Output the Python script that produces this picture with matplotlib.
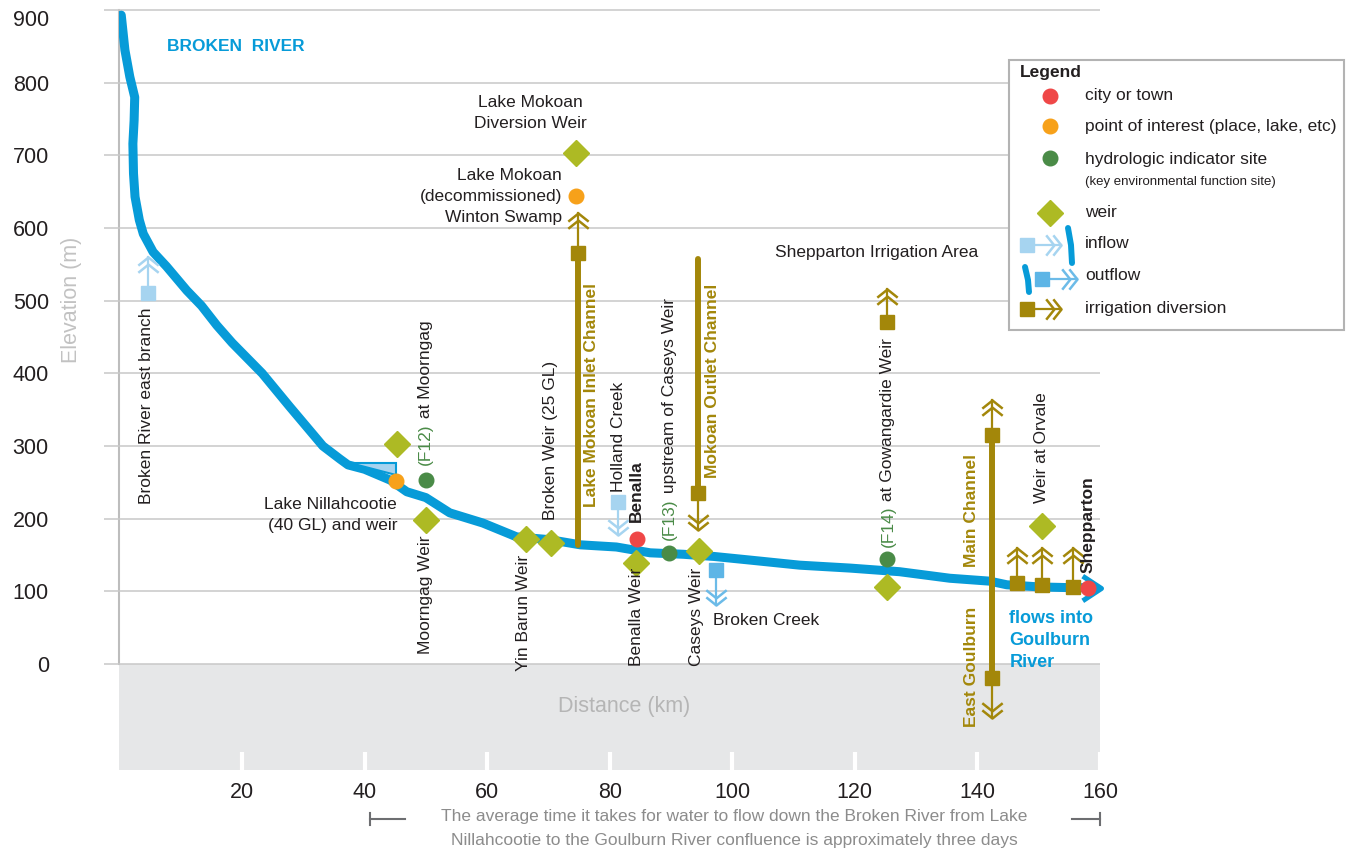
import numpy as np
import matplotlib.pyplot as plt
from matplotlib.path import Path
from matplotlib.patches import Polygon, Rectangle

plt.rcParams['font.family'] = ['Liberation Sans', 'DejaVu Sans']

# Profil rzeki: odległość od źródła [km], wysokość [m]
river_km = [0.3, 0.9, 1.7, 2.5, 2.4, 2.2, 2.3, 2.55, 3.25, 3.9, 5.5, 7.7,
            11.0, 13.4, 15.9, 18.4, 20.5, 23.3, 27.8, 33.2, 36.0, 37.3,
            40.0, 44.2, 46.9, 50.0, 53.9, 59.3, 64.8, 70.3,
            75.2, 81.1, 86.6, 92.0, 97.0, 102.9, 111.0, 119.2, 127.3,
            135.5, 142.0, 144.8, 150.2, 155.5, 159.3]
river_elev = [893, 845, 808, 780, 748, 716, 675, 643, 611, 592, 567, 547,
              514, 493, 466, 442, 424, 400, 354, 300, 282, 274,
              268, 253, 237, 229, 208, 194, 175, 171, 164, 161, 153, 151,
              148, 143, 136, 132, 127, 118, 114, 109, 106, 105, 105]

# Zbiornik Lake Nillahcootie
res_km = [37.6, 45.2, 45.2]
res_elev = [277, 277, 260]

city_km = [84.5, 158.0]          # Benalla, Shepparton
city_elev = [172, 104]
poi_km = [45.1, 74.5]            # Lake Nillahcootie, Lake Mokoan
poi_elev = [252, 644]
site_km = [50.0, 89.7, 125.3]    # F12, F13, F14
site_elev = [253, 153, 144]
weir_km = [45.3, 50.0, 66.4, 70.4, 74.5, 84.3, 94.5, 125.3, 150.5]
weir_elev = [303, 198, 172, 166, 703, 139, 155, 106, 190]

# Dopływy / odpływy: kwadrat (start) i grot strzałki
inflow_km = [4.7, 81.3]
inflow_from = [510, 223]
inflow_to = [560, 177]
outflow_km = [97.3]
outflow_from = [129]
outflow_to = [81]

# Pobory do nawadniania
irr_km = [74.8, 94.4, 125.3, 142.4, 142.4, 146.5, 150.6, 155.6]
irr_from = [566, 235, 470, 315, -19, 111, 109, 106]
irr_to = [620, 184, 516, 363, -74, 160, 160, 160]

# Kanały (grube linie)
chan_km = [74.8, 94.4, 142.4]
chan_top = [566, 558, 315]
chan_bot = [164, 235, -19]

xticks = [20, 40, 60, 80, 100, 120, 140, 160]
yticks = [0, 100, 200, 300, 400, 500, 600, 700, 800, 900]

BLUE = '#079bd8'
RED = '#ef4747'
ORANGE = '#f7a11a'
GREEN = '#4a8b47'
WEIR = '#adba24'
OLIVE = '#a3870a'
LBLUE = '#a6d4f0'
MBLUE = '#5db5e6'
DARK = '#231f20'
GRID = '#c8c8c8'
FS = 12.5

chev = [(-1, -0.8), (0, 0), (1, -0.8), (-1, -1.5), (0, -0.7), (1, -1.5)]
codes = [Path.MOVETO, Path.LINETO, Path.LINETO,
         Path.MOVETO, Path.LINETO, Path.LINETO]
CHEV_UP = Path(chev, codes)
CHEV_DOWN = Path([(x, -y) for x, y in chev], codes)
CHEV_RIGHT = Path([(y, -x) for x, y in chev], codes)
RIVER_HEAD = Path([(-1.52, 1), (0, 0), (-1.52, -1)],
                  [Path.MOVETO, Path.LINETO, Path.LINETO])


def arrows(ax, xs, y0s, y1s, color, lw=1.6, z=4):
    for x, y0, y1 in zip(xs, y0s, y1s):
        ax.plot([x, x], [y0, y1], color=color, lw=lw, zorder=z,
                clip_on=False)
        mk = CHEV_UP if y1 > y0 else CHEV_DOWN
        ax.plot(x, y1, marker=mk, ms=22, mfc='none', mec=color, mew=1.8,
                zorder=z, clip_on=False)


def vlabel(ax, x, y, s, va='bottom', color=DARK, weight='normal'):
    return ax.text(x, y, s, rotation=90, ha='center', va=va, color=color,
                   fontsize=FS, fontweight=weight, zorder=7)


def two_tone(ax, x, y, first, rest):
    t = vlabel(ax, x, y, first, color=GREEN)
    ax.annotate(rest, xy=(0.5, 1), xycoords=t, rotation=90, ha='center',
                va='bottom', color=DARK, fontsize=FS, zorder=7)


fig = plt.figure(figsize=(13.47, 8.5), dpi=100)
ax = fig.add_axes([119.4 / 1347, 80 / 850, 980.6 / 1347, 762 / 850])
ax.set_xlim(0, 160)
ax.set_ylim(-145.9, 902.8)
ax.set_axisbelow(False)

# Szare pasmo pod osią
ax.axhspan(-145.9, 0, color='#e6e7e8', zorder=1, lw=0)

ax.set_yticks(yticks)
ax.set_xticks(xticks)
ax.yaxis.grid(True, color=GRID, lw=1.1)
ax.tick_params(axis='y', direction='out', length=10.8, width=1.1,
               color=GRID, pad=40, labelsize=15.5, labelcolor=DARK)
ax.tick_params(axis='x', direction='in', length=13, width=3,
               color='white', pad=9, labelsize=15.5, labelcolor=DARK)
ax.get_yticklabels()[-1].set_va('top')
for s in ['top', 'right', 'bottom']:
    ax.spines[s].set_visible(False)
ax.spines['left'].set_color('#bdbdbd')
ax.spines['left'].set_linewidth(1.5)
ax.spines['left'].set_bounds(0, 900)

# Rzeka
ax.plot(river_km, river_elev, color=BLUE, lw=6.5, solid_capstyle='round',
        solid_joinstyle='round', zorder=3)
ax.plot(river_km[-1] + 0.8, river_elev[-1], marker=RIVER_HEAD, ms=27,
        mfc='none', mec=BLUE, mew=3.6, zorder=3, clip_on=False)
ax.add_patch(Polygon(list(zip(res_km, res_elev)), closed=True,
                     facecolor='#a7d3ef', edgecolor=BLUE, lw=1.5, zorder=3))

# Kanały
for x, y0, y1 in zip(chan_km, chan_top, chan_bot):
    ax.plot([x, x], [y0, y1], color=OLIVE, lw=4.3, solid_capstyle='round',
            zorder=4, clip_on=False)

arrows(ax, irr_km, irr_from, irr_to, OLIVE)
ax.plot(irr_km, irr_from, 's', color=OLIVE, ms=10, zorder=5, clip_on=False)
arrows(ax, inflow_km, inflow_from, inflow_to, LBLUE)
ax.plot(inflow_km, inflow_from, 's', color=LBLUE, ms=10, zorder=5)
arrows(ax, outflow_km, outflow_from, outflow_to, '#6cbbe8')
ax.plot(outflow_km, outflow_from, 's', color=MBLUE, ms=10, zorder=5)

ax.plot(weir_km, weir_elev, 'D', color=WEIR, ms=13, zorder=6)
ax.plot(site_km, site_elev, 'o', color=GREEN, ms=10.5, zorder=6)
ax.plot(poi_km, poi_elev, 'o', color=ORANGE, ms=10.5, zorder=6)
ax.plot(city_km, city_elev, 'o', color=RED, ms=10.5, zorder=6)

# Podpisy
ax.text(7.8, 850, 'BROKEN  RIVER', color=BLUE, fontsize=FS,
        fontweight='bold', va='center')
vlabel(ax, 4.5, 490, 'Broken River east branch', va='top')
ax.text(45.3, 205, 'Lake Nillahcootie\n(40 GL) and weir', ha='right',
        va='center', ma='right', fontsize=FS, color=DARK, linespacing=1.5)
two_tone(ax, 50.0, 274, '(F12)', ' at Moorngag')
vlabel(ax, 50.0, 177, 'Moorngag Weir', va='top')
vlabel(ax, 66.0, 150, 'Yin Barun Weir', va='top')
vlabel(ax, 70.4, 198, 'Broken Weir (25 GL)')
vlabel(ax, 77.0, 216, 'Lake Mokoan Inlet Channel', color=OLIVE,
       weight='bold')
ax.text(67.0, 758, 'Lake Mokoan\nDiversion Weir', ha='center', va='center',
        fontsize=FS, color=DARK, linespacing=1.5)
ax.text(72.2, 644, 'Lake Mokoan\n(decommissioned)\nWinton Swamp', ha='right',
        va='center', ma='right', fontsize=FS, color=DARK, linespacing=1.5)
vlabel(ax, 81.5, 237, 'Holland Creek')
vlabel(ax, 84.4, 195, 'Benalla', weight='bold')
vlabel(ax, 84.3, 132, 'Benalla Weir', va='top')
two_tone(ax, 89.7, 171, '(F13)', ' upstream of Caseys Weir')
vlabel(ax, 96.8, 256, 'Mokoan Outlet Channel', color=OLIVE, weight='bold')
vlabel(ax, 94.2, 132, 'Caseys Weir', va='top')
ax.text(96.9, 60, 'Broken Creek', ha='left', va='center', fontsize=FS,
        color=DARK)
ax.text(123.5, 566, 'Shepparton Irrigation Area', ha='center', va='center',
        fontsize=FS, color=DARK)
two_tone(ax, 125.4, 161, '(F14)', ' at Gowangardie Weir')
vlabel(ax, 139.1, 133, 'Main Channel', color=OLIVE, weight='bold')
vlabel(ax, 139.1, -87, 'East Goulburn', color=OLIVE, weight='bold')
vlabel(ax, 150.4, 221, 'Weir at Orvale')
vlabel(ax, 158.0, 125, 'Shepparton', weight='bold')
ax.text(145.2, 74, 'flows into\nGoulburn\nRiver', ha='left', va='top',
        color=BLUE, fontsize=13, fontweight='bold', linespacing=1.38,
        zorder=7)
ax.text(82.3, -59, 'Distance (km)', ha='center', va='center',
        color='#b5b5b5', fontsize=15.5)

# Nakładka w pikselach: legenda, opis osi, podpis
ov = fig.add_axes([0, 0, 1, 1], zorder=10)
ov.set_xlim(0, 1347)
ov.set_ylim(850, 0)
ov.axis('off')
ov.patch.set_alpha(0)

ov.text(72, 300, 'Elevation (m)', rotation=90, ha='center', va='center',
        color='#c2c2c2', fontsize=15.5)

ov.add_patch(Rectangle((1009, 60), 335, 270, facecolor='white',
                       edgecolor='#b3b3b3', lw=1.5))
ov.text(1020, 72, 'Legend', fontweight='bold', fontsize=FS, color=DARK,
        va='center')
ov.plot(1050, 96, 'o', color=RED, ms=10.5)
ov.text(1085, 95, 'city or town', fontsize=FS, color=DARK, va='center')
ov.plot(1050, 126, 'o', color=ORANGE, ms=10.5)
ov.text(1085, 126, 'point of interest (place, lake, etc)', fontsize=FS,
        color=DARK, va='center')
ov.plot(1050, 158, 'o', color=GREEN, ms=10.5)
ov.text(1085, 159, 'hydrologic indicator site', fontsize=FS, color=DARK,
        va='center')
ov.text(1085, 182, '(key environmental function site)', fontsize=9.5,
        color=DARK, va='center')
ov.plot(1050, 213, 'D', color=WEIR, ms=13)
ov.text(1085, 212, 'weir', fontsize=FS, color=DARK, va='center')

# inflow
ov.plot([1027, 1061], [245, 245], color=LBLUE, lw=1.6)
ov.plot(1061, 245, marker=CHEV_RIGHT, ms=22, mfc='none', mec=LBLUE,
        mew=1.8)
ov.plot(1027, 245, 's', color=LBLUE, ms=10)
ov.plot([1068, 1071, 1072], [228, 245, 263], color=BLUE, lw=4.3,
        solid_capstyle='round')
ov.text(1085, 243, 'inflow', fontsize=FS, color=DARK, va='center')
# outflow
ov.plot([1025, 1028, 1029], [267, 280, 292], color=BLUE, lw=4.3,
        solid_capstyle='round')
ov.plot([1042, 1077], [279, 279], color='#6cbbe8', lw=1.6)
ov.plot(1077, 279, marker=CHEV_RIGHT, ms=22, mfc='none', mec='#6cbbe8',
        mew=1.8)
ov.plot(1042, 279, 's', color=MBLUE, ms=10)
ov.text(1085, 276, 'outflow', fontsize=FS, color=DARK, va='center')
# irrigation diversion
ov.plot([1027, 1061], [309, 309], color=OLIVE, lw=1.6)
ov.plot(1061, 309, marker=CHEV_RIGHT, ms=22, mfc='none', mec=OLIVE,
        mew=1.8)
ov.plot(1027, 309, 's', color=OLIVE, ms=10)
ov.text(1085, 308, 'irrigation diversion', fontsize=FS, color=DARK,
        va='center')

# Podpis pod wykresem
ov.text(734, 817, 'The average time it takes for water to flow down the '
        'Broken River from Lake', ha='center', va='center', color='#8c8c8c',
        fontsize=FS)
ov.text(734, 840, 'Nillahcootie to the Goulburn River confluence is '
        'approximately three days', ha='center', va='center',
        color='#8c8c8c', fontsize=FS)
ov.plot([370, 405], [819, 819], color='#6d6e71', lw=1.5)
ov.plot([370, 370], [813, 825], color='#6d6e71', lw=1.5)
ov.plot([1072, 1100], [819, 819], color='#6d6e71', lw=1.5)
ov.plot([1100, 1100], [813, 825], color='#6d6e71', lw=1.5)

fig.savefig('out.png', dpi=100)
